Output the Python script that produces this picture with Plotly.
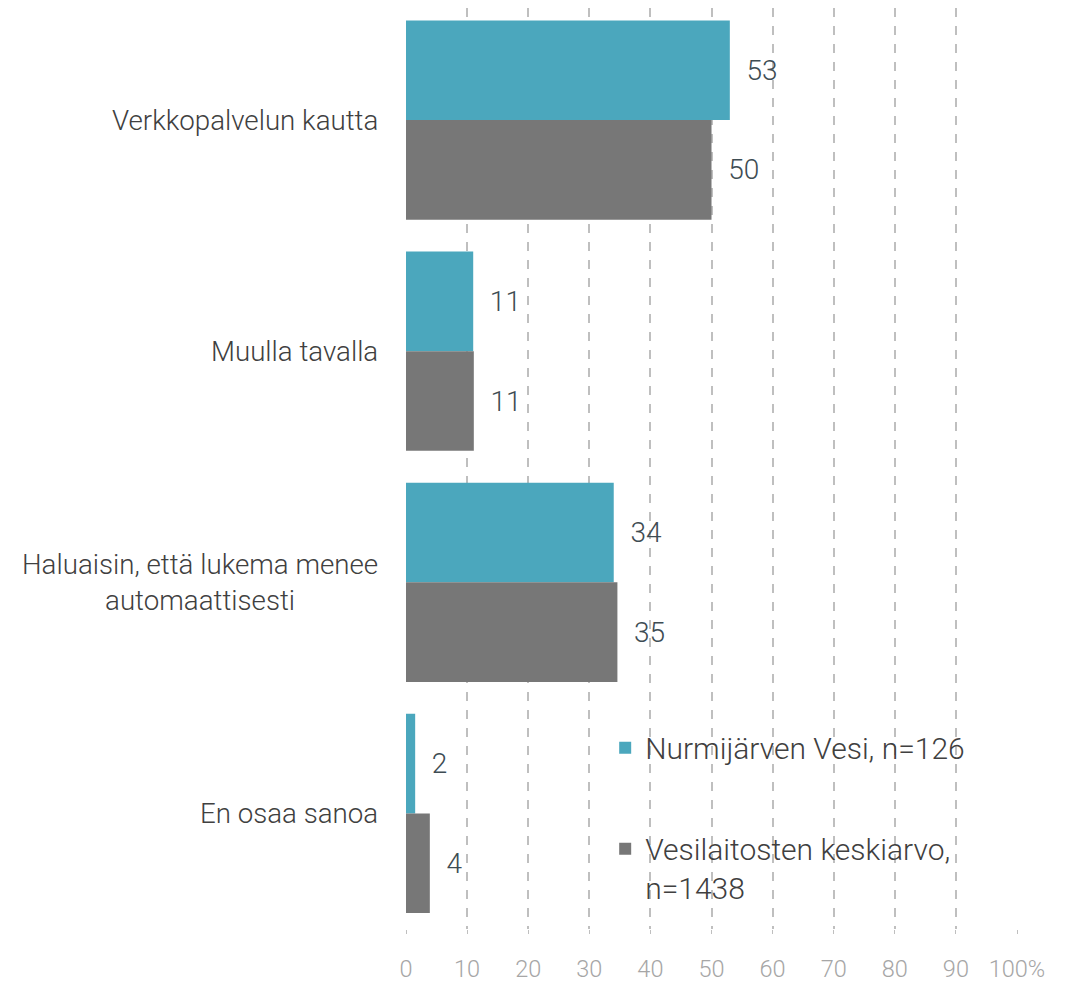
import plotly.graph_objects as go

categories = ["Verkkopalvelun kautta", "Muulla tavalla",
              "Haluaisin, että lukema menee<br>automaattisesti", "En osaa sanoa"]
nurmijarvi = [53, 11, 34, 1.5]
keskiarvo = [50, 11.1, 34.6, 3.9]
series_names = ["Nurmijärven Vesi, n=126", "Vesilaitosten keskiarvo,<br>n=1438"]
tick_vals = [0, 10, 20, 30, 40, 50, 60, 70, 80, 90, 100]
tick_text = ["0", "10", "20", "30", "40", "50", "60", "70", "80", "90", "100%"]

FONT = "Roboto, sans-serif"
colors = ["#4BA7BD", "#777777"]

fig = go.Figure()
for name, vals, col, grp in zip(series_names, [nurmijarvi, keskiarvo], colors, ["a", "b"]):
    fig.add_trace(go.Bar(
        y=categories, x=vals, name=name, orientation="h",
        marker=dict(color=col, line=dict(width=0)),
        text=[f"\u00a0\u00a0{v:.0f}" for v in vals],
        textposition="outside", cliponaxis=False,
        textfont=dict(family=FONT, size=28, color="#3E4C53", weight=300),
        legendgroup=grp,
    ))

annotations = [dict(
    x=0, xref="paper", y=c, yref="y", text=c, showarrow=False,
    xanchor="right", yanchor="middle", xshift=-26, align="center",
    font=dict(family=FONT, size=27.7, color="#404040", weight=300))
    for c in categories]

fig.update_layout(
    width=1079, height=975,
    margin=dict(l=398, r=70, t=0, b=51),
    plot_bgcolor="white", paper_bgcolor="white",
    barmode="group", bargap=0.138, bargroupgap=0,
    annotations=annotations,
    legend=dict(x=0.326, y=0.225, xanchor="left", yanchor="top",
                font=dict(family=FONT, size=30, color="#404040", weight=300),
                bgcolor="rgba(0,0,0,0)", traceorder="grouped",
                tracegroupgap=59, valign="top", itemwidth=30),
    xaxis=dict(range=[0, 100], tickvals=tick_vals, ticktext=tick_text,
               showgrid=True, gridcolor="#BFBFBF", griddash="dash", gridwidth=1.5,
               zeroline=False, showline=False,
               ticks="outside", ticklen=4, tickcolor="#BFBFBF",
               ticklabelstandoff=15,
               tickfont=dict(family=FONT, size=23.5, color="#A6A6A6", weight=300)),
    yaxis=dict(range=[3.5, -0.485], showticklabels=False, showgrid=False,
               zeroline=False, showline=False),
)

fig.write_html("out.html")
